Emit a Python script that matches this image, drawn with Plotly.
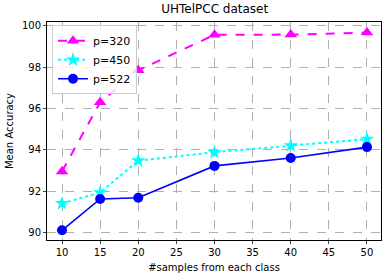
import plotly.graph_objects as go

samples = [10, 15, 20, 30, 40, 50]
p320 = [92.95, 96.3, 97.85, 99.57, 99.58, 99.68]
p450 = [91.4, 91.93, 93.47, 93.88, 94.2, 94.52]
p522 = [90.1, 91.62, 91.68, 93.22, 93.6, 94.13]

x_ticks = [10, 15, 20, 25, 30, 35, 40, 45, 50]
y_ticks = [90, 92, 94, 96, 98, 100]

fig = go.Figure()
fig.add_trace(go.Scatter(x=samples, y=p320, name="p=320", mode="lines+markers",
                         line=dict(color="#ff00ff", width=2, dash="dash"),
                         marker=dict(symbol="triangle-up", size=11, color="#ff00ff")))
fig.add_trace(go.Scatter(x=samples, y=p450, name="p=450", mode="lines+markers",
                         line=dict(color="#00ffff", width=2, dash="dot"),
                         marker=dict(symbol="star", size=11, color="#00ffff")))
fig.add_trace(go.Scatter(x=samples, y=p522, name="p=522", mode="lines+markers",
                         line=dict(color="#0000ff", width=1.6),
                         marker=dict(symbol="circle", size=10, color="#0000ff")))

fig.update_layout(
    width=389, height=278,
    margin=dict(l=47, r=8, t=22, b=38),
    paper_bgcolor="white", plot_bgcolor="white",
    font=dict(family="DejaVu Sans", size=10, color="black"),
    title=dict(text="UHTelPCC dataset", x=0.552, xanchor="center", y=0.985, yanchor="top",
               font=dict(size=12)),
    showlegend=True,
    legend=dict(x=0.015, y=0.985, xanchor="left", yanchor="top",
                bordercolor="#cccccc", borderwidth=1, bgcolor="rgba(255,255,255,0.8)",
                font=dict(size=11), itemwidth=30, tracegroupgap=0),
)
fig.update_xaxes(range=[8.03, 51.84], tickvals=x_ticks, ticks="outside", ticklen=3,
                 showline=True, linecolor="black", linewidth=1, mirror=True,
                 showgrid=True, gridcolor="#b0b0b0", griddash="dash", gridwidth=0.8,
                 zeroline=False, automargin=False,
                 title=dict(text="#samples from each class", standoff=6, font=dict(size=10)))
fig.update_yaxes(range=[89.63, 100.19], tickvals=y_ticks, ticks="outside", ticklen=3,
                 showline=True, linecolor="black", linewidth=1, mirror=True,
                 showgrid=True, gridcolor="#b0b0b0", griddash="dash", gridwidth=0.8,
                 zeroline=False, automargin=False,
                 title=dict(text="Mean Accuracy", standoff=6, font=dict(size=10)))

fig.write_html("out.html", config={"displayModeBar": False},
               post_script="document.body.style.margin='0';")
